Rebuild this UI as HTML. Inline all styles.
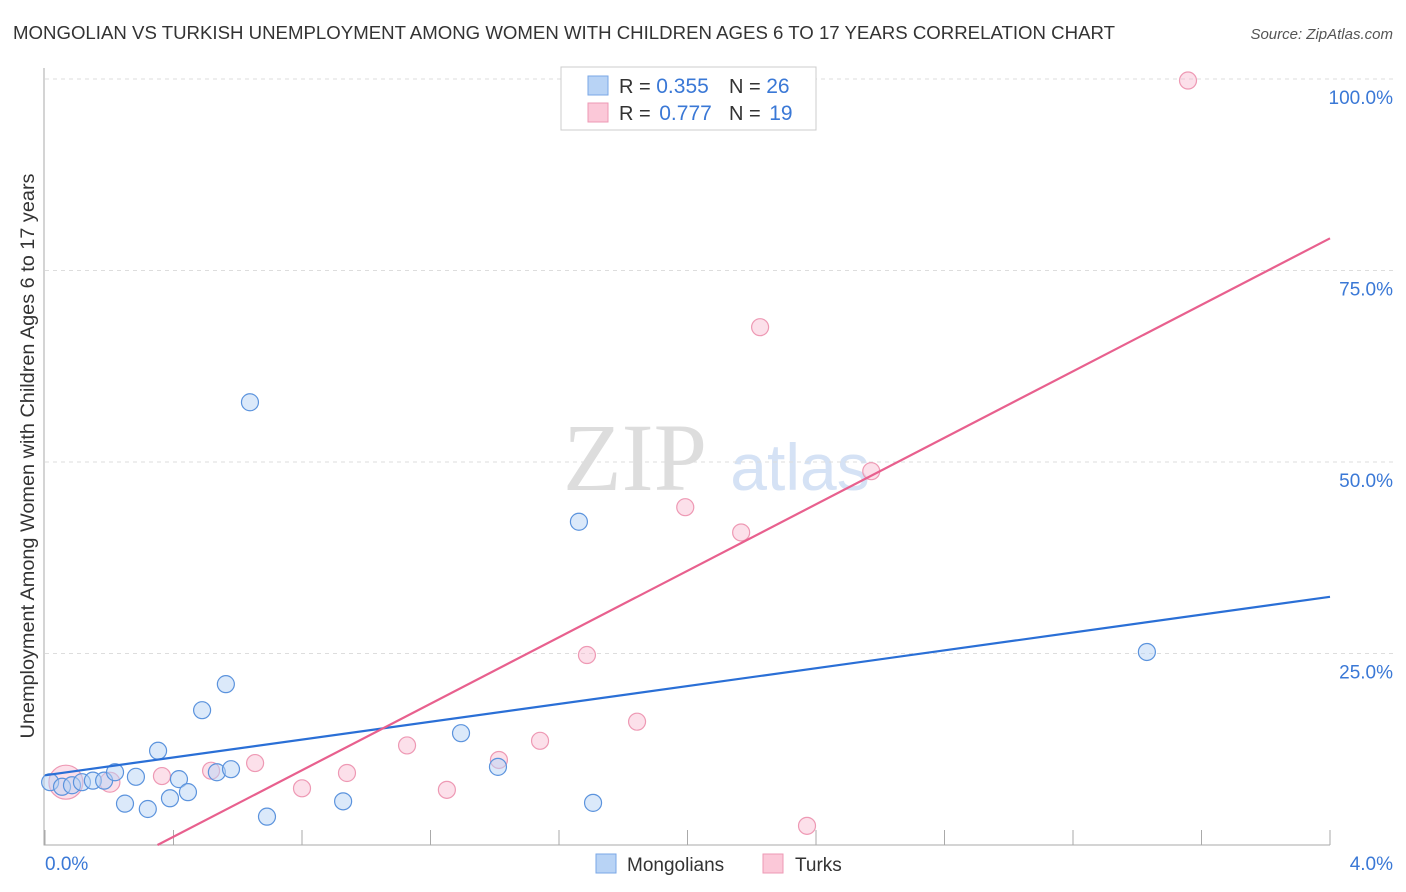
<!DOCTYPE html>
<html><head><meta charset="utf-8">
<style>
body{margin:0;background:#fff;font-family:"Liberation Sans",sans-serif;}
#wrap{position:relative;width:1406px;height:892px;overflow:hidden;}
</style></head>
<body><div id="wrap">
<svg id="svg" width="1406" height="892" xmlns="http://www.w3.org/2000/svg">
<text x="13" y="39" font-size="18" fill="#333" textLength="1102" lengthAdjust="spacingAndGlyphs">MONGOLIAN VS TURKISH UNEMPLOYMENT AMONG WOMEN WITH CHILDREN AGES 6 TO 17 YEARS CORRELATION CHART</text>
<text x="1393" y="39" font-size="15" fill="#555" font-style="italic" text-anchor="end">Source: ZipAtlas.com</text>
<text x="635" y="490" font-size="96" fill="#ddd" font-family="Liberation Serif,serif" text-anchor="middle">ZIP</text>
<text x="800" y="490" font-size="66" fill="#d5e2f5" text-anchor="middle">atlas</text>
<g id="grid"></g><g id="axes"></g><g id="marks"></g>
<text transform="translate(34,456) rotate(-90)" font-size="19" fill="#333" text-anchor="middle" textLength="565" lengthAdjust="spacingAndGlyphs">Unemployment Among Women with Children Ages 6 to 17 years</text>
<g>
<rect x="561" y="67" width="255" height="63" fill="#fff" stroke="#ccc"/>
<rect x="588" y="76" width="20" height="19" fill="#b8d3f5" stroke="#7aa7e6"/>
<rect x="588" y="103" width="20" height="19" fill="#fbc8d8" stroke="#ee99b4"/>
<text x="619" y="93" font-size="20" fill="#333">R = <tspan fill="#3a78d6" font-size="21">0.355</tspan></text>
<text x="729" y="93" font-size="20" fill="#333">N = <tspan fill="#3a78d6" font-size="21">26</tspan></text>
<text x="619" y="120" font-size="20" fill="#333">R = <tspan fill="#3a78d6" dx="3" font-size="21">0.777</tspan></text>
<text x="729" y="120" font-size="20" fill="#333">N = <tspan fill="#3a78d6" dx="3" font-size="21">19</tspan></text>
</g>
<g>
<rect x="596" y="854" width="20" height="19" fill="#b8d3f5" stroke="#7aa7e6"/>
<text x="627" y="871" font-size="19" fill="#333">Mongolians</text>
<rect x="763" y="854" width="20" height="19" fill="#fbc8d8" stroke="#ee99b4"/>
<text x="795" y="871" font-size="19" fill="#333">Turks</text>
</g>
</svg>
<script>
const blueX=[0.016,0.053,0.084,0.115,0.149,0.184,0.218,0.249,0.283,0.320,0.352,0.389,0.417,0.445,0.489,0.535,0.563,0.579,0.638,0.691,0.928,1.295,1.410,1.662,1.706,3.430];
const blueY=[8.2,7.6,7.8,8.2,8.4,8.4,9.5,5.4,8.9,4.7,12.3,6.1,8.6,6.9,17.6,9.5,21.0,9.9,57.8,3.7,5.7,14.6,10.2,42.2,5.5,25.2];
const pinkX=[0.065,0.202,0.364,0.517,0.654,0.800,0.940,1.127,1.251,1.413,1.541,1.687,1.843,1.993,2.167,2.226,2.372,2.572,3.558];
const pinkY=[8.2,8.2,9.0,9.7,10.7,7.4,9.4,13.0,7.2,11.1,13.6,24.8,16.1,44.1,40.8,67.6,2.5,48.8,99.8];
const pinkR=[17,10,8.5,8.5,8.5,8.5,8.5,8.5,8.5,8.5,8.5,8.5,8.5,8.5,8.5,8.5,8.5,8.5,8.5];
const blueTrend=[9.1,32.4];
const pinkTrend=[-7.6,79.2];
const yTicks=[25,50,75,100];
const yTickLabels=["25.0%","50.0%","75.0%","100.0%"];
const xTicks=[0,0.4,0.8,1.2,1.6,2.0,2.4,2.8,3.2,3.6,4.0];
const NS="http://www.w3.org/2000/svg";
const X=v=>45+v/4*1285, Y=v=>845-v*7.66;
function mk(t,a,p){const e=document.createElementNS(NS,t);for(const k in a)e.setAttribute(k,a[k]);p.appendChild(e);return e;}
const grid=document.getElementById('grid'),axes=document.getElementById('axes'),marks=document.getElementById('marks');
yTicks.forEach((t,i)=>{
 const l=mk('line',{x1:45,x2:1393,y1:Y(t),y2:Y(t),stroke:'#ddd','stroke-dasharray':'4,4'},grid);
 
 
 const tx=mk('text',{x:1393,y:Y(t)+25,'font-size':19,fill:'#3a78d6','text-anchor':'end'},grid);
 tx.textContent=yTickLabels[i];
 
 
});
const ax=mk('path',{d:'M44,68V845H1330',stroke:'#aaa',fill:'none'},axes);


xTicks.forEach(t=>{
 const l=mk('line',{x1:X(t),x2:X(t),y1:830,y2:845,stroke:'#aaa'},axes);
 
 
});
[[0,'0.0%','start',45],[4,'4.0%','end',1393]].forEach(a=>{
 const tx=mk('text',{x:a[3],y:870,'font-size':19,fill:'#3a78d6','text-anchor':a[2]},axes);
 tx.textContent=a[1];
 
 
});
pinkX.forEach((x,i)=>{
 const c=mk('circle',{cx:X(x),cy:Y(pinkY[i]),r:pinkR[i],fill:'rgba(248,187,208,0.45)',stroke:'#ee99b4','stroke-width':1.2},marks);
 
 
});
blueX.forEach((x,i)=>{
 const c=mk('circle',{cx:X(x),cy:Y(blueY[i]),r:8.5,fill:'rgba(184,211,245,0.5)',stroke:'#5b93dd','stroke-width':1.2},marks);
 
 
});
const bl=mk('line',{x1:X(0),y1:Y(blueTrend[0]),x2:X(4),y2:Y(blueTrend[1]),stroke:'#2a6fd6','stroke-width':2.2},marks);


const x0=-pinkTrend[0]/(pinkTrend[1]-pinkTrend[0])*4;
const pl=mk('line',{x1:X(Math.max(0,x0)),y1:Y(Math.max(0,pinkTrend[0])),x2:X(4),y2:Y(pinkTrend[1]),stroke:'#e8608e','stroke-width':2.2},marks);


</script>
</div></body></html>
